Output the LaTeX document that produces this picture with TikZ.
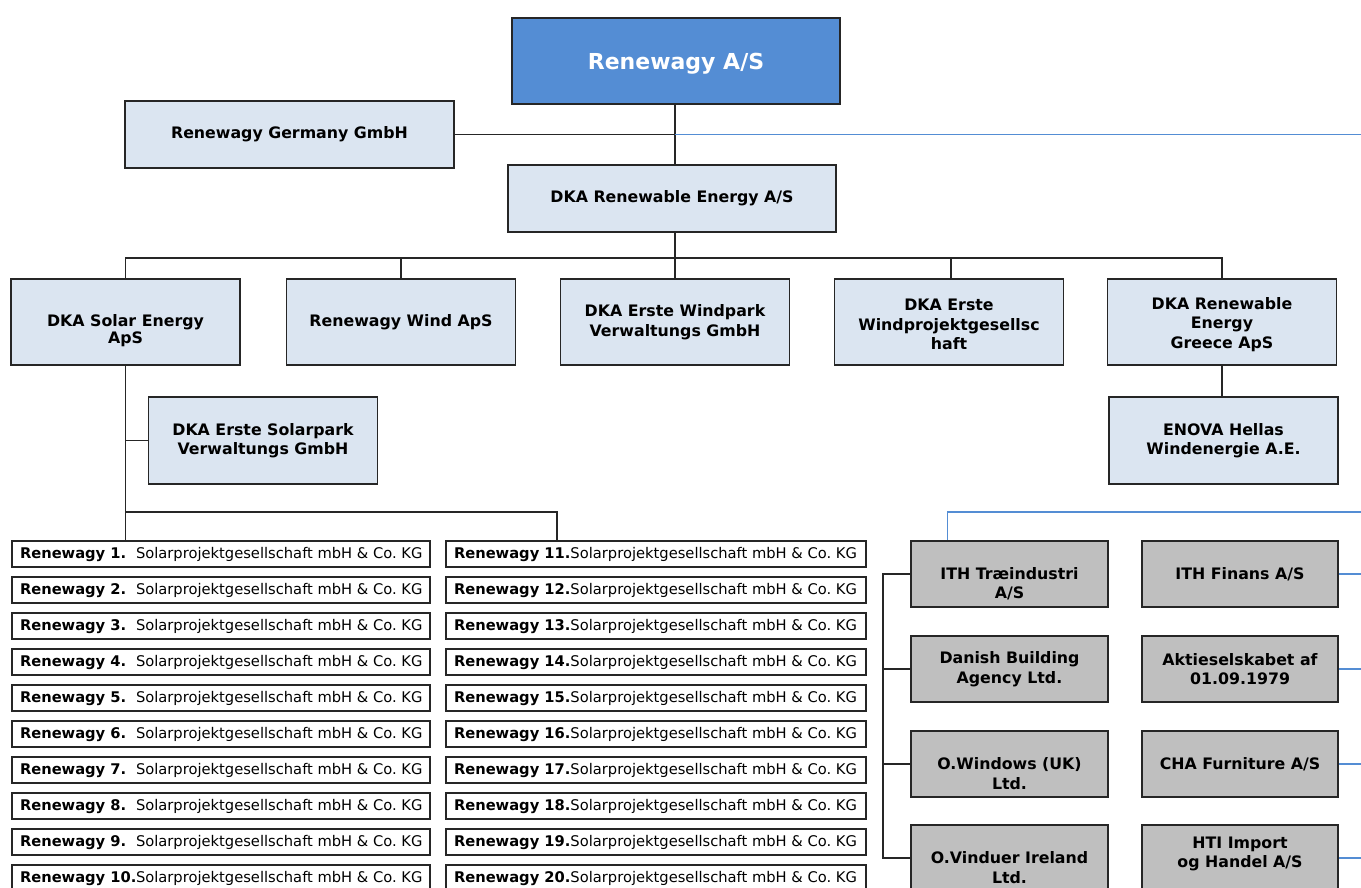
\documentclass[tikz,border=0pt]{standalone}
\usepackage{fontspec}
\setmainfont{DejaVu Sans}
\usepackage{tikz}
\pgfdeclarelayer{bg}
\pgfsetlayers{bg,main}
\definecolor{topblue}{RGB}{84,141,212}
\definecolor{paleblue}{RGB}{219,229,241}
\definecolor{boxgray}{RGB}{191,191,191}
\frenchspacing
\tikzset{
    box/.style={rectangle, draw=black!85, line width=1.1pt, inner sep=0pt, align=center,
        font=\fontsize{15.8}{19.5}\selectfont\bfseries},
    unit/.style={box, fill=paleblue, minimum width=229pt, minimum height=86pt},
    firm/.style={box, fill=boxgray, minimum width=197pt, minimum height=66pt},
    spv/.style={box, fill=white, minimum height=26pt, inner xsep=8pt,
        font=\fontsize{14.7}{16}\selectfont},
    link/.style={draw=black!85, line width=1.1pt},
    extlink/.style={draw=topblue, line width=1.4pt}
}
\newcommand{\spvname}[1]{\makebox[116pt][l]{\textbf{#1}}}
\newcommand{\spvleft}[1]{\makebox[402pt][l]{#1}}
\newcommand{\spvright}[1]{\makebox[404pt][l]{#1}}
\newcommand{\dropline}{\rule{0pt}{31pt}}

\begin{document}
\begin{tikzpicture}[x=1pt, y=-1pt]
        \useasboundingbox (0,0) rectangle (1361,887);
        \node (top) [box, fill=topblue, text=white, minimum width=328pt, minimum height=86pt,
                font=\fontsize{22}{24}\selectfont\bfseries] at (676,61) {\rule{0pt}{22pt}Renewagy A/S};
        \node (ger) [unit, minimum width=329pt, minimum height=67pt] at (289.5,134.5) {Renewagy Germany GmbH};
        \node (dka) [unit, minimum width=328pt, minimum height=67pt] at (672,198.5) {DKA Renewable Energy A/S};
        \node (dso) [unit] at (125.5,322) {\rule{0pt}{29pt}DKA Solar Energy\\[-2pt]ApS};
        \node (rww) [unit] at (401,322) {Renewagy Wind ApS};
        \node (dew) [unit] at (675,322) {DKA Erste Windpark\\Verwaltungs GmbH};
        \node (dep) [unit] at (949,322) {\rule{0pt}{17pt}DKA Erste\\Windprojektgesellsc\\haft};
        \node (drg) [unit] at (1222,322) {\rule{0pt}{17pt}DKA Renewable\\Energy\\Greece ApS};
        \node (ses) [unit, minimum height=87pt] at (263,440.5) {DKA Erste Solarpark\\Verwaltungs GmbH};
        \node (eno) [unit, minimum height=87pt] at (1223.5,440.5) {ENOVA Hellas\\Windenergie A.E.};

        \node (r1) [spv] at (221,554) {\spvleft{\spvname{Renewagy 1.}Solarprojektgesellschaft mbH \& Co. KG}};
        \node (r2) [spv] at (221,590) {\spvleft{\spvname{Renewagy 2.}Solarprojektgesellschaft mbH \& Co. KG}};
        \node (r3) [spv] at (221,626) {\spvleft{\spvname{Renewagy 3.}Solarprojektgesellschaft mbH \& Co. KG}};
        \node (r4) [spv] at (221,662) {\spvleft{\spvname{Renewagy 4.}Solarprojektgesellschaft mbH \& Co. KG}};
        \node (r5) [spv] at (221,698) {\spvleft{\spvname{Renewagy 5.}Solarprojektgesellschaft mbH \& Co. KG}};
        \node (r6) [spv] at (221,734) {\spvleft{\spvname{Renewagy 6.}Solarprojektgesellschaft mbH \& Co. KG}};
        \node (r7) [spv] at (221,770) {\spvleft{\spvname{Renewagy 7.}Solarprojektgesellschaft mbH \& Co. KG}};
        \node (r8) [spv] at (221,806) {\spvleft{\spvname{Renewagy 8.}Solarprojektgesellschaft mbH \& Co. KG}};
        \node (r9) [spv] at (221,842) {\spvleft{\spvname{Renewagy 9.}Solarprojektgesellschaft mbH \& Co. KG}};
        \node (r10) [spv] at (221,878) {\spvleft{\spvname{Renewagy 10.}Solarprojektgesellschaft mbH \& Co. KG}};
        \node (r11) [spv] at (656,554) {\spvright{\textbf{Renewagy 11.}Solarprojektgesellschaft mbH \& Co. KG}};
        \node (r12) [spv] at (656,590) {\spvright{\textbf{Renewagy 12.}Solarprojektgesellschaft mbH \& Co. KG}};
        \node (r13) [spv] at (656,626) {\spvright{\textbf{Renewagy 13.}Solarprojektgesellschaft mbH \& Co. KG}};
        \node (r14) [spv] at (656,662) {\spvright{\textbf{Renewagy 14.}Solarprojektgesellschaft mbH \& Co. KG}};
        \node (r15) [spv] at (656,698) {\spvright{\textbf{Renewagy 15.}Solarprojektgesellschaft mbH \& Co. KG}};
        \node (r16) [spv] at (656,734) {\spvright{\textbf{Renewagy 16.}Solarprojektgesellschaft mbH \& Co. KG}};
        \node (r17) [spv] at (656,770) {\spvright{\textbf{Renewagy 17.}Solarprojektgesellschaft mbH \& Co. KG}};
        \node (r18) [spv] at (656,806) {\spvright{\textbf{Renewagy 18.}Solarprojektgesellschaft mbH \& Co. KG}};
        \node (r19) [spv] at (656,842) {\spvright{\textbf{Renewagy 19.}Solarprojektgesellschaft mbH \& Co. KG}};
        \node (r20) [spv] at (656,878) {\spvright{\textbf{Renewagy 20.}Solarprojektgesellschaft mbH \& Co. KG}};

        \node (ith) [firm] at (1009.5,574) {\dropline ITH Træindustri\\A/S};
        \node (dba) [firm] at (1009.5,669) {Danish Building\\Agency Ltd.};
        \node (owu) [firm] at (1009.5,764) {\dropline O.Windows (UK)\\Ltd.};
        \node (ovi) [firm] at (1009.5,858) {\dropline O.Vinduer Ireland\\Ltd.};
        \node (itf) [firm, minimum width=196pt] at (1240,574) {ITH Finans A/S};
        \node (akt) [firm, minimum width=196pt] at (1240,669) {Aktieselskabet af\\01.09.1979};
        \node (cha) [firm, minimum width=196pt] at (1240,764) {CHA Furniture A/S};
        \node (hti) [firm, minimum width=196pt] at (1240,858) {HTI Import\\og Handel A/S\\[-8pt]\mbox{}};

        % joints and loose ends
        \coordinate (jn) at (675,134.5);
        \coordinate (bus) at (675,258);
        \coordinate (sbus) at (557,512);
        \coordinate (brk) at (883,574);
        \coordinate (out1) at (1361,134.5);
        \coordinate (out2) at (1361,512);

        \begin{pgfonlayer}{bg}
                \draw [link] (jn |- top.south) -- (jn |- dka.north);
                \draw [link] (ger.east) -- (jn);
                \draw [extlink] (jn) -- (out1);
                \draw [link] (jn |- dka.south) -- (bus);
                \draw [link] (dso.north) -- (dso.north |- bus) -- (drg.north |- bus) -- (drg.north);
                \draw [link] (rww.north |- bus) -- (rww.north);
                \draw [link] (dew.north |- bus) -- (dew.north);
                \draw [link] ([xshift=2pt]dep.north |- bus) -- ([xshift=2pt]dep.north);
                \draw [link] (drg.south) -- (drg.south |- eno.north);
                \draw [link] (dso.south) -- (dso.south |- r1.north);
                \draw [link] (dso.south |- ses.west) -- (ses.west);
                \draw [link] (dso.south |- sbus) -- (sbus) -- (sbus |- r11.north);
                \draw [extlink] (out2) -| ([xshift=-62pt]ith.north);
                \draw [link] (ith.west) -- (brk) |- (ovi.west);
                \draw [link] (brk |- dba.west) -- (dba.west);
                \draw [link] (brk |- owu.west) -- (owu.west);
                \draw [extlink] (itf.east) -- (itf.east -| out1);
                \draw [extlink] (akt.east) -- (akt.east -| out1);
                \draw [extlink] (cha.east) -- (cha.east -| out1);
                \draw [extlink] (hti.east) -- (hti.east -| out1);
        \end{pgfonlayer}
\end{tikzpicture}
\end{document}
